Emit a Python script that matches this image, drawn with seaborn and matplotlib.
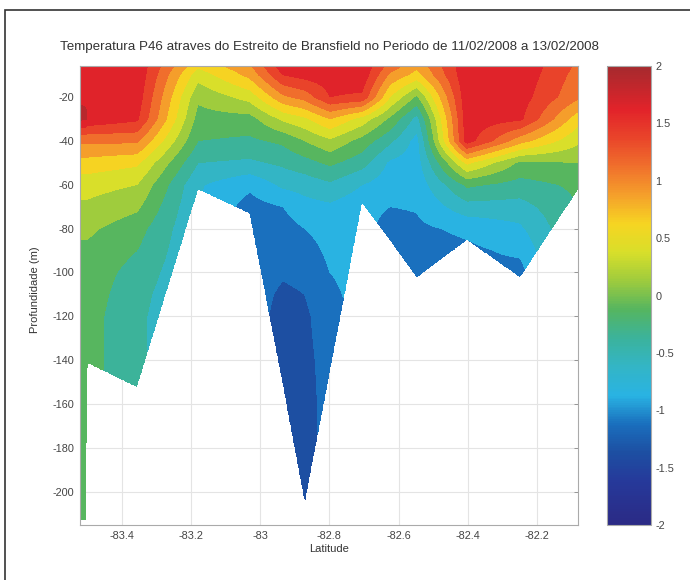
import matplotlib
matplotlib.use("Agg")
import matplotlib.pyplot as plt
import numpy as np
import seaborn as sns
from matplotlib.colors import LinearSegmentedColormap, Normalize
from matplotlib.patches import Rectangle
from matplotlib.ticker import FormatStrFormatter

# depth levels (m) at which each station profile is given
depth_levels = [-6, -10, -20, -30, -40, -50, -60, -70, -80, -90,
                -100, -110, -120, -140, -160, -180, -200, -215]

# station latitude and bottom depth (m)
station_lat = [-83.521, -83.504, -83.500, -83.357, -83.180, -83.030, -82.934,
               -82.871, -82.798, -82.706, -82.625, -82.547, -82.402, -82.249, -82.081]
station_bottom = [-213, -213, -141, -152, -62, -73, -151,
                  -204, -144, -68, -85, -102, -85, -102, -62]

# temperature profiles (degC), one list per station, from the surface down
t_a = [1.6, 1.68, 1.72, 1.8, 1.05, 0.65, 0.35, 0.2, 0.05, -0.05, -0.1, -0.12, -0.14, -0.15, -0.15, -0.15, -0.15, -0.15]
t_b = [1.6, 1.68, 1.72, 1.78, 1.05, 0.65, 0.35, 0.2, 0.05, -0.05, -0.1, -0.12, -0.15, -0.18, -0.18, -0.18, -0.18, -0.18]
t_c = [1.6, 1.68, 1.7, 1.7, 1.05, 0.65, 0.35, 0.2, 0.05, -0.05, -0.1, -0.12, -0.15, -0.15]
t_d = [1.7, 1.7, 1.65, 1.55, 1.05, 0.55, 0.25, 0.05, -0.15, -0.25, -0.35, -0.42, -0.45, -0.45, -0.45]
t_e = [0.55, 0.35, 0.05, -0.1, -0.25, -0.5, -0.72, -0.75]
t_f = [0.95, 0.82, 0.35, -0.1, -0.3, -0.55, -0.95, -1.1, -1.12]
t_g = [1.65, 1.5, 0.95, 0.3, -0.2, -0.45, -0.7, -1.0, -1.1, -1.15, -1.22, -1.3, -1.35, -1.4, -1.4]
t_h = [1.7, 1.6, 1.1, 0.45, 0.0, -0.35, -0.65, -0.85, -1.0, -1.1, -1.18, -1.25, -1.3, -1.32, -1.35, -1.35, -1.35, -1.35]
t_i = [1.65, 1.65, 1.5, 0.75, 0.2, -0.2, -0.55, -0.8, -0.9, -0.95, -1.0, -1.05, -1.1, -1.15, -1.15]
t_j = [1.7, 1.68, 1.45, 0.4, -0.1, -0.4, -0.75, -0.92]
t_k = [1.15, 0.95, 0.5, -0.05, -0.45, -0.8, -0.9, -1.0, -1.1, -1.1]
t_l = [0.8, 0.65, -0.05, -0.6, -0.85, -0.88, -0.92, -0.98, -1.05, -1.1, -1.15, -1.15]
t_m = [1.7, 1.7, 1.68, 1.65, 1.62, 0.55, -0.2, -0.6, -0.95, -1.05]
t_n = [1.7, 1.68, 1.62, 1.55, 0.85, -0.05, -0.35, -0.6, -0.8, -0.95, -1.1, -1.15]
t_o = [1.2, 1.15, 1.05, 0.6, 0.3, 0.0, -0.2, -0.25]

profiles = [t_a, t_b, t_c, t_d, t_e, t_f, t_g, t_h, t_i, t_j, t_k, t_l, t_m, t_n, t_o]

color_ticks = [-2, -1.5, -1, -0.5, 0, 0.5, 1, 1.5, 2]
x_ticks = [-83.4, -83.2, -83.0, -82.8, -82.6, -82.4, -82.2]
y_ticks = [-200, -180, -160, -140, -120, -100, -80, -60, -40, -20]

TITLE = "Temperatura P46 atraves do Estreito de Bransfield no Periodo de 11/02/2008 a 13/02/2008"

# printed-jet look
CMAP = LinearSegmentedColormap.from_list("jet_print", [
    (0.0, "#2b2a85"), (0.09375, "#26399a"), (0.15625, "#1d4fa2"),
    (0.21875, "#1a6fbd"), (0.28125, "#29b3e3"), (0.34375, "#33b5c6"),
    (0.40625, "#3bb39c"), (0.46875, "#55b560"), (0.53125, "#9dcb3e"),
    (0.59375, "#d8df2a"), (0.65625, "#f6d522"), (0.71875, "#f5a02b"),
    (0.78125, "#f0702c"), (0.84375, "#e9452a"), (0.90625, "#e2232a"),
    (1.0, "#a52a2e")])

sns.set_style("white")
plt.rcParams["font.family"] = ["Liberation Sans", "DejaVu Sans"]

# grid the station profiles (held at the bottom value below the sea floor)
D = np.array(depth_levels, float)
S = np.zeros((len(D), len(profiles)))
for j, prof in enumerate(profiles):
    v = np.asarray(prof, float)
    S[:len(v), j] = v
    S[len(v):, j] = v[-1]

lat_f = np.linspace(station_lat[0], station_lat[-1], 760)
dep_f = np.linspace(-215, -6, 640)
rows = np.array([np.interp(lat_f, station_lat, S[k]) for k in range(len(D))])
Z = np.array([np.interp(dep_f, D[::-1], rows[::-1, i]) for i in range(len(lat_f))]).T
floor = np.interp(lat_f, station_lat, station_bottom)
Z = np.ma.masked_where(dep_f[:, None] < floor[None, :], Z)

fig = plt.figure(figsize=(6.9, 5.8), dpi=100)
ax = fig.add_axes([80 / 690, 55 / 580, 498 / 690, 459 / 580])
cax = fig.add_axes([607 / 690, 55 / 580, 44 / 690, 459 / 580])

norm = Normalize(-2, 2)
ax.set_axisbelow(True)
ax.grid(True, color="#e4e4e4", lw=0.8)
ax.contourf(lat_f, dep_f, Z, levels=np.arange(-2, 2.01, 0.25), cmap=CMAP, norm=norm, zorder=1)

ax.set_xlim(station_lat[0], station_lat[-1])
ax.set_ylim(-215, -6)
ax.set_xticks(x_ticks)
ax.set_yticks(y_ticks)
ax.xaxis.set_major_formatter(FormatStrFormatter("%g"))
ax.yaxis.set_major_formatter(FormatStrFormatter("%g"))
ax.tick_params(direction="in", length=3, width=0.6, color="#888", labelsize=7.8,
               labelcolor="#444", top=True, right=True, pad=4)
for sp in ax.spines.values():
    sp.set_color("#aaaaaa"); sp.set_linewidth(0.8)

sm = plt.cm.ScalarMappable(norm=norm, cmap=CMAP)
cb = fig.colorbar(sm, cax=cax, ticks=color_ticks)
cb.ax.yaxis.set_major_formatter(FormatStrFormatter("%g"))
cb.ax.tick_params(direction="in", length=3, width=0.6, color="#888", labelsize=7.8,
                  labelcolor="#444", pad=3)
cb.outline.set_edgecolor("#aaaaaa"); cb.outline.set_linewidth(0.8)

fig.text(329 / 690, 1 - 47 / 580, TITLE, ha="center", va="center", fontsize=9.6, color="#333")
fig.text(329 / 690, 1 - 549 / 580, "Latitude", ha="center", va="center", fontsize=8, color="#333")
fig.text(35 / 690, 1 - 290 / 580, "Profundidade (m)", ha="center", va="center",
         rotation=90, fontsize=8, color="#333")

fig.patches.append(Rectangle((5 / 690, -0.05), 1.1, 1 - 10 / 580 + 0.05, transform=fig.transFigure,
                             fill=False, ec="#333333", lw=1.2))

fig.savefig("out.png", dpi=100)
